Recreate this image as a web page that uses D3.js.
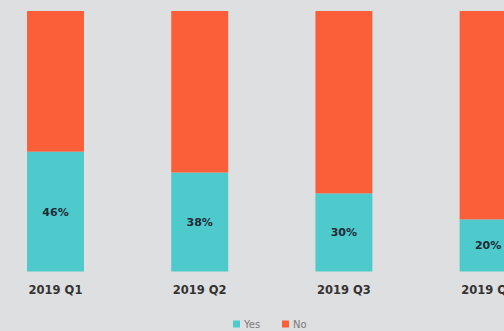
<!DOCTYPE html>
<html>
<head>
<meta charset="utf-8">
<script src="https://cdn.jsdelivr.net/npm/d3@7"></script>
<style>
  html, body { margin: 0; padding: 0; background: #dedfe1; }
  svg { display: block; }
</style>
</head>
<body>
<svg id="chart" width="504" height="331"></svg>
<script>
// Survey share per quarter (percent)
const categories = ["2019 Q1", "2019 Q2", "2019 Q3", "2019 Q4"];
const yesValues = [46, 38, 30, 20];
const noValues = [54, 62, 70, 80];
const seriesNames = ["Yes", "No"];
const seriesColors = ["#4fcacc", "#fb5f3a"];

const svg = d3.select("#chart");
const W = 504, H = 331;

svg.append("rect").attr("width", W).attr("height", H).attr("fill", "#dedfe1");

const rows = categories.map((c, i) => ({ cat: c, Yes: yesValues[i], No: noValues[i] }));
const stacked = d3.stack().keys(seriesNames)(rows);

const x = d3.scaleBand()
  .domain(categories)
  .range([-16.6, 560.2])
  .paddingInner(0.605)
  .paddingOuter(0.3025);

const y = d3.scaleLinear().domain([0, 100]).range([271.5, 11]);
const color = d3.scaleOrdinal().domain(seriesNames).range(seriesColors);

// Stacked bars
svg.append("g")
  .selectAll("g")
  .data(stacked)
  .join("g")
  .attr("fill", d => color(d.key))
  .selectAll("rect")
  .data(d => d)
  .join("rect")
  .attr("x", d => x(d.data.cat))
  .attr("y", d => y(d[1]))
  .attr("width", x.bandwidth())
  .attr("height", d => y(d[0]) - y(d[1]));

// Value labels centred inside the "Yes" segments
svg.append("g")
  .selectAll("text")
  .data(stacked[0])
  .join("text")
  .attr("x", d => x(d.data.cat) + x.bandwidth() / 2)
  .attr("y", d => (y(d[0]) + y(d[1])) / 2)
  .attr("dy", "0.36em")
  .attr("text-anchor", "middle")
  .attr("font-family", "DejaVu Sans, sans-serif")
  .attr("font-weight", "bold")
  .attr("font-size", 11)
  .attr("fill", "#1c2b36")
  .text(d => d.data.Yes + "%");

// Category axis (labels only)
const xAxis = svg.append("g")
  .attr("transform", "translate(0,286)")
  .call(d3.axisBottom(x).tickSize(0).tickPadding(0));
xAxis.select(".domain").remove();
xAxis.selectAll("text")
  .attr("font-family", "DejaVu Sans, sans-serif")
  .attr("font-weight", "bold")
  .attr("font-size", 11.5)
  .attr("fill", "#333")
  .attr("dy", "0.71em");

// Legend
const legend = svg.append("g").attr("transform", "translate(233,324)");
const legendX = [0, 49];
const items = legend.selectAll("g")
  .data(seriesNames)
  .join("g")
  .attr("transform", (d, i) => `translate(${legendX[i]},0)`);
items.append("rect")
  .attr("x", 0).attr("y", -3.5)
  .attr("width", 7).attr("height", 7)
  .attr("fill", d => color(d));
items.append("text")
  .attr("x", 11).attr("y", 0)
  .attr("dy", "0.35em")
  .attr("font-family", "DejaVu Sans, sans-serif")
  .attr("font-size", 10)
  .attr("fill", "#7a7a7a")
  .text(d => d);
</script>
</body>
</html>
